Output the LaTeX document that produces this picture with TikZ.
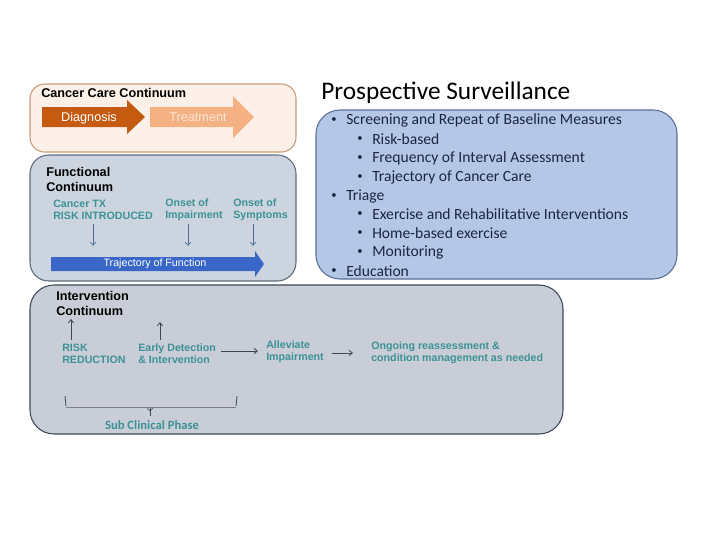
\documentclass[tikz,border=0pt]{standalone}
\usepackage{fontspec}
\setmainfont{Liberation Sans}
\newfontfamily\carl{Carlito}
\usetikzlibrary{arrows.meta,calc}
\definecolor{topfill}{HTML}{FCF0E8}
\definecolor{topedge}{HTML}{C99A78}
\definecolor{diag}{HTML}{C55A11}
\definecolor{treat}{HTML}{F4B183}
\definecolor{treattxt}{HTML}{FBE5D6}
\definecolor{funcfill}{HTML}{CCD5DF}
\definecolor{funcedge}{HTML}{5F6B78}
\definecolor{trajblue}{HTML}{3A66C8}
\definecolor{prosfill}{HTML}{B4C7E7}
\definecolor{prosedge}{HTML}{5A6D95}
\definecolor{prostxt}{HTML}{1C2541}
\definecolor{intfill}{HTML}{C8CDD8}
\definecolor{intedge}{HTML}{3E4757}
\definecolor{teal}{HTML}{3F9294}
\definecolor{thinarrow}{HTML}{4F6E9E}
\tikzset{
  panel/.style={line width=0.8pt},
  heading/.style={anchor=west, inner sep=0pt, font=\bfseries\fontsize{9.5}{11}\selectfont},
  lbl/.style={anchor=west, inner sep=0pt, align=left, text=teal, font=\bfseries\fontsize{8}{9.2}\selectfont},
  item/.style={anchor=west, inner sep=0pt, text=prostxt, font=\carl\fontsize{11.7}{13}\selectfont},
  bul/.style={anchor=center, inner sep=0pt, text=prostxt, font=\carl\fontsize{8}{9}\selectfont},
  thin/.style={draw=thinarrow, line width=0.5pt, -{Straight Barb[length=2.5pt,width=4pt]}},
  dark/.style={draw=intedge, line width=0.6pt, -{Straight Barb[length=2.5pt,width=4pt]}},
}
\begin{document}
\begin{tikzpicture}[x=0.75pt,y=-0.75pt]
\useasboundingbox (0,0) rectangle (720,540);
% ---------- Cancer Care Continuum ----------
\draw[panel, draw=topedge, fill=topfill, rounded corners=11pt] (30,84) rectangle (296,152);
\node[heading] (cct) at (41,93) {Cancer Care Continuum};
\fill[diag] (42,107) -- (127,107) -- (127,100) -- (145,117) -- (127,134) -- (127,127) -- (42,127) -- cycle;
\fill[treat] (150,107) -- (233,107) -- (233,96) -- (254,117) -- (233,138) -- (233,127) -- (150,127) -- cycle;
\node[text=white, inner sep=0pt, font=\fontsize{9.5}{11}\selectfont] (diagn) at (89,118) {Diagnosis};
\node[text=treattxt, inner sep=0pt, font=\fontsize{9.5}{11}\selectfont] (treatn) at (198,117) {Treatment};
% ---------- Functional Continuum ----------
\draw[panel, draw=funcedge, fill=funcfill, rounded corners=14pt] (30,155) rectangle (296,281);
\node[heading] (fc1) at (46,172) {Functional};
\node[heading] (fc2) at (46,187) {Continuum};
\node[lbl] (ctx) at (53,210) {Cancer TX\\RISK INTRODUCED};
\node[lbl] (oimp) at (165,210) {Onset of\\Impairment};
\node[lbl] (osym) at (233,210) {Onset of\\Symptoms};
\coordinate (a1s) at (93,224);   \coordinate (a1) at (93,246);
\coordinate (a2s) at (188,224);  \coordinate (a2) at (188,246);
\coordinate (a3s) at (253,224);  \coordinate (a3) at (253,246);
\draw[thin] (a1s) -- (a1);
\draw[thin] (a2s) -- (a2);
\draw[thin] (a3s) -- (a3);
\fill[trajblue] (51,257) -- (255,257) -- (255,251) -- (264,264) -- (255,277) -- (255,271) -- (51,271) -- cycle;
\node[text=white, inner sep=0pt, font=\fontsize{8}{9}\selectfont] (traj) at (155,264) {Trajectory of Function};
% ---------- Prospective Surveillance ----------
\node[anchor=west, inner sep=0pt, font=\carl\fontsize{19}{22}\selectfont] (pst) at (321,93) {Prospective Surveillance};
\draw[panel, draw=prosedge, fill=prosfill, rounded corners=18pt] (316,110) rectangle (677,279);
\node[bul] (b1) at (334,120) {•}; \node[item] (i1) at (346,120) {Screening and Repeat of Baseline Measures};
\node[bul] (b2) at (360,139) {•}; \node[item] (i2) at (372,139) {Risk-based};
\node[bul] (b3) at (360,158) {•}; \node[item] (i3) at (372,158) {Frequency of Interval Assessment};
\node[bul] (b4) at (360,177) {•}; \node[item] (i4) at (372,177) {Trajectory of Cancer Care};
\node[bul] (b5) at (334,196) {•}; \node[item] (i5) at (346,196) {Triage};
\node[bul] (b6) at (360,214) {•}; \node[item] (i6) at (372,214) {Exercise and Rehabilitative Interventions};
\node[bul] (b7) at (360,233) {•}; \node[item] (i7) at (372,233) {Home-based exercise};
\node[bul] (b8) at (360,252) {•}; \node[item] (i8) at (372,252) {Monitoring};
\node[bul] (b9) at (334,271) {•}; \node[item] (i9) at (346,271) {Education};
% ---------- Intervention Continuum ----------
\draw[panel, draw=intedge, fill=intfill, rounded corners=18pt] (30,285) rectangle (563,434);
\node[heading] (ic1) at (56,296) {Intervention};
\node[heading] (ic2) at (56,311) {Continuum};
\node[lbl] (rr) at (62,354) {RISK\\REDUCTION};
\node[lbl] (ed) at (138,354) {Early Detection\\\& Intervention};
\node[lbl] (ai) at (266,352) {Alleviate\\Impairment};
\node[lbl] (og) at (371,353) {Ongoing reassessment \&\\condition management as needed};
\coordinate (u1s) at (71,340);  \coordinate (u1) at (71,319);
\coordinate (u2s) at (160,340); \coordinate (u2) at (160,322);
\draw[dark] (u1s) -- (u1);
\draw[dark] (u2s) -- (u2);
\draw[dark] ($(ed.east)+(5,-3)$) -- ($(ai.west)+(-8,-1)$);
\draw[dark] ($(ai.east)+(8,1)$) -- ($(og.west)+(-18,0)$);
% bracket
\draw[draw=intedge, line width=0.6pt] (65,396) -- (66,406);
\draw[draw=intedge, line width=0.6pt] (237,396) -- (236,406);
\draw[draw=gray, line width=0.4pt] (66,407) -- (236,407);
\draw[draw=intedge, line width=0.5pt] (150,408) -- (150,416);
\draw[draw=intedge, line width=0.5pt] (147,408) -- (150,411) -- (153,408);
\node[inner sep=0pt, text=teal, font=\carl\bfseries\fontsize{9.5}{11}\selectfont] (scp) at (152,425) {Sub Clinical Phase};
\end{tikzpicture}
\end{document}
